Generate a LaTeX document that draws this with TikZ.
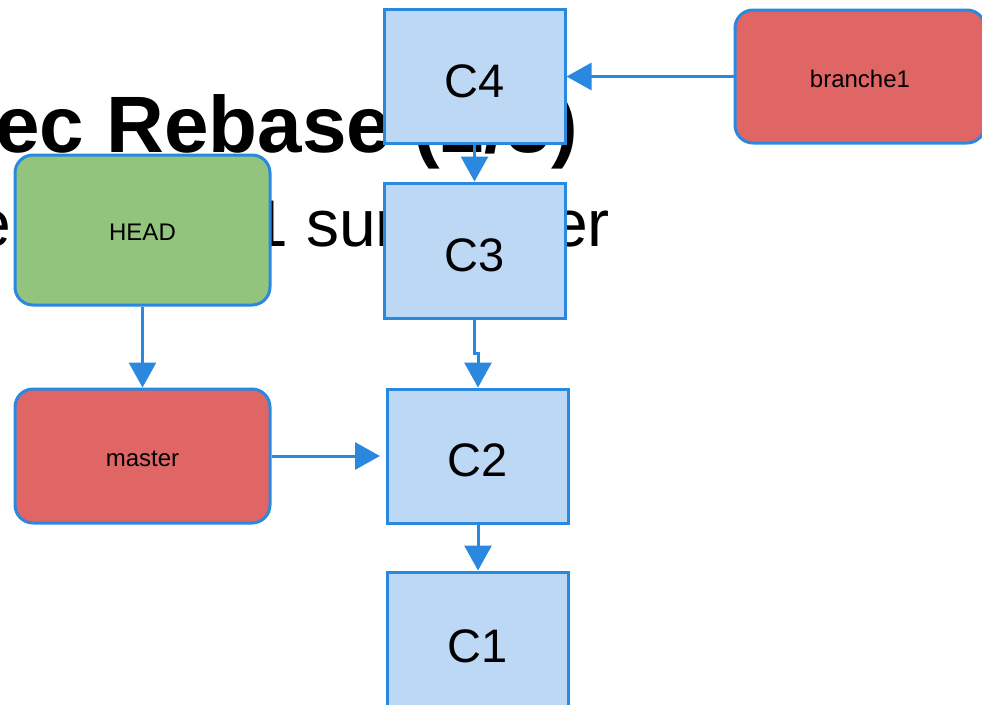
\documentclass[tikz,border=0pt]{standalone}
\usepackage{fontspec}
\setmainfont{Liberation Sans}
\usetikzlibrary{arrows.meta}

\definecolor{edgeblue}{RGB}{42,137,222}
\definecolor{commitfill}{RGB}{189,216,245}
\definecolor{headgreen}{RGB}{147,196,125}
\definecolor{refred}{RGB}{224,102,102}

\begin{document}
\begin{tikzpicture}[x=1pt,y=-1pt,
  commit/.style={draw=edgeblue, fill=commitfill, line width=3pt, rectangle,
    minimum width=181pt, minimum height=134pt, inner sep=0pt,
    text height=41pt, text depth=0pt, font=\fontsize{47}{50}\selectfont},
  ref/.style={draw=edgeblue, line width=3pt, rounded corners=18pt, rectangle,
    minimum width=255pt, minimum height=134pt, inner sep=0pt,
    text height=21pt, text depth=0pt, font=\fontsize{24}{28}\selectfont},
  link/.style={draw=edgeblue, line width=3pt, -{Triangle[length=25pt,width=27pt]}},
  heading/.style={anchor=base west, inner sep=0pt, font=\fontsize{80}{90}\selectfont\bfseries},
  subheading/.style={anchor=base east, inner sep=0pt, font=\fontsize{66}{72}\selectfont}]

  % page frame
  \fill[white] (0,0) rectangle (982,704);
  \useasboundingbox (0,0) rectangle (982,704);

  % slide heading behind the graph
  \node[heading] (title) at (-104,152) {Avec Rebase (2/3)};
  \node[subheading] (sub0) at (12,246) {Rebase de};
  \node[subheading] (sub1) at (398,246) {branche1 sur};
  \node[subheading] (sub2) at (610,246) {master};

  % commits
  \node[commit] (c4) at (474.5,76.5) {C4};
  \node[commit, minimum height=135pt] (c3) at (474.5,250.5) {C3};
  \node[commit] (c2) at (478,456) {C2};
  \node[commit, minimum height=140pt] (c1) at (478,642) {C1};

  % references
  \node[ref, fill=headgreen, minimum height=150pt] (head) at (142.5,230) {HEAD};
  \node[ref, fill=refred] (master) at (142.5,456) {master};
  \node[ref, fill=refred, minimum width=250pt, minimum height=133pt] (branche1) at (860,76.5) {branche1};

  % links
  \draw[link] (branche1.west) -- (c4.east);
  \draw[link] (c4.south) -- (c3.north);
  \draw[link] (c3.south) -- ++(0,34) -| (c2.north);
  \draw[link] (c2.south) -- (c1.north);
  \draw[link] (head.south) -- (master.north);
  \draw[link, shorten >=6pt] (master.east) -- (c2.west);
\end{tikzpicture}
\end{document}
